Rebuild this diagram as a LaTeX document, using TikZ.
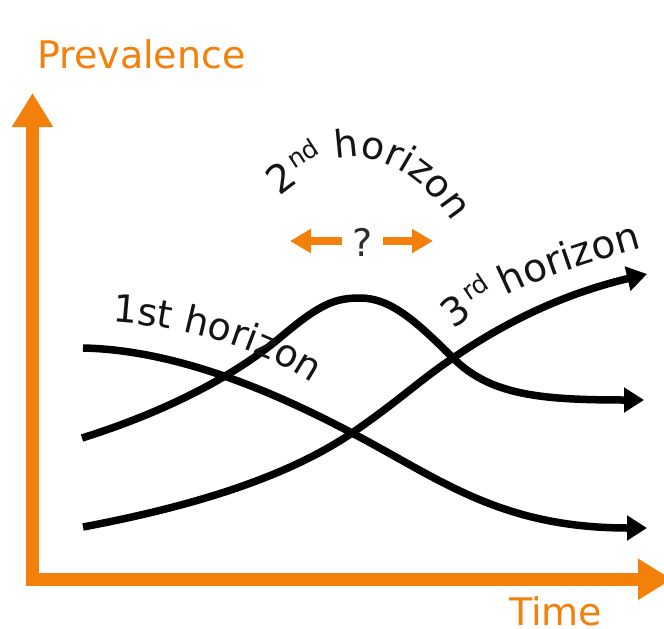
\documentclass[tikz,border=0pt]{standalone}
\usepackage{fontspec}
\setmainfont{DejaVu Sans}
\usetikzlibrary{arrows.meta,decorations.text}
\definecolor{axisorange}{RGB}{242,128,10}
\definecolor{ink}{RGB}{20,20,20}
\begin{document}
\begin{tikzpicture}[x=1pt,y=-1pt,
  axis/.style={draw=axisorange, line width=13.3pt, line join=miter,
    {Triangle[length=34pt,width=39pt]}-{Triangle[length=34pt,width=39pt]}},
  curve/.style={draw=black, line width=7.5pt, -{Triangle[length=20pt,width=24pt]}},
  qarrow/.style={draw=axisorange, line width=8pt, -{Triangle[length=21pt,width=23pt]}},
  axislabel/.style={text=axisorange, font=\fontsize{38}{40}\selectfont, inner sep=0pt},
  qlabel/.style={text=ink!90, font=\fontsize{38}{40}\selectfont, inner sep=0pt},
  bigglyph/.style={text=ink, font=\fontsize{39}{41}\selectfont, inner sep=0pt, anchor=base west},
  supglyph/.style={text=ink, font=\fontsize{25}{27}\selectfont, inner sep=0pt, anchor=base west}]
\useasboundingbox (0,0) rectangle (664,629);

% axes
\coordinate (ytip) at (32.5,93);
\coordinate (O) at (32.5,579.3);
\coordinate (xtip) at (672,579.3);
\draw[axis] (ytip) -- (O) -- (xtip);
\node[axislabel, anchor=base west] (prev) at (37,68) {Prevalence};
\node[axislabel, anchor=base west] (time) at (509,625) {Time};

% curves
\draw[curve] (83,348) .. controls (180,350) and (280,395) .. (352,433)
  .. controls (440,479) and (500,528) .. (647,528);
\draw[curve] (82,438) .. controls (165,412) and (235,376) .. (282,336)
  .. controls (320,304) and (335,298) .. (360,298)
  .. controls (390,298) and (415,320) .. (453,358)
  .. controls (490,395) and (540,400) .. (644,400);
\draw[curve] (83,527) .. controls (200,505) and (290,475) .. (352,433)
  .. controls (400,400) and (420,380) .. (453,358)
  .. controls (520,312) and (580,290) .. (647,274);

% question mark and arrows
\node[qlabel, anchor=base] (q) at (363,256) {?};
\coordinate (ls) at (342,241);
\coordinate (lt) at (290,241);
\coordinate (rs) at (383,241);
\coordinate (rt) at (433,241);
\draw[qarrow] (ls) -- (lt);
\draw[qarrow] (rs) -- (rt);

% 1st horizon
\path[decorate, decoration={text along path, text color=ink,
  text={|\fontsize{38}{40}\selectfont|1st horizon}}]
  (112,322) .. controls (190,327) and (270,350) .. (330,396);

% 2nd horizon
\node[bigglyph, rotate=37] (two) at (279,197) {2};
\node[supglyph, rotate=33] (nd) at (294,170) {nd};
\path[decorate, decoration={text along path, text color=ink,
  text={|\fontsize{38}{40}\selectfont|horizon}}]
  (336,160) .. controls (365,150) and (420,165) .. (458,232);

% 3rd horizon
\node[bigglyph, rotate=36] (three) at (453,330) {3};
\node[supglyph, rotate=34] (rd) at (469,302) {rd};
\path[decorate, decoration={text along path, text color=ink,
  text={|\fontsize{39}{41}\selectfont|horizon}}]
  (506,296) .. controls (548,275) and (603,258) .. (664,242);
\end{tikzpicture}
\end{document}
